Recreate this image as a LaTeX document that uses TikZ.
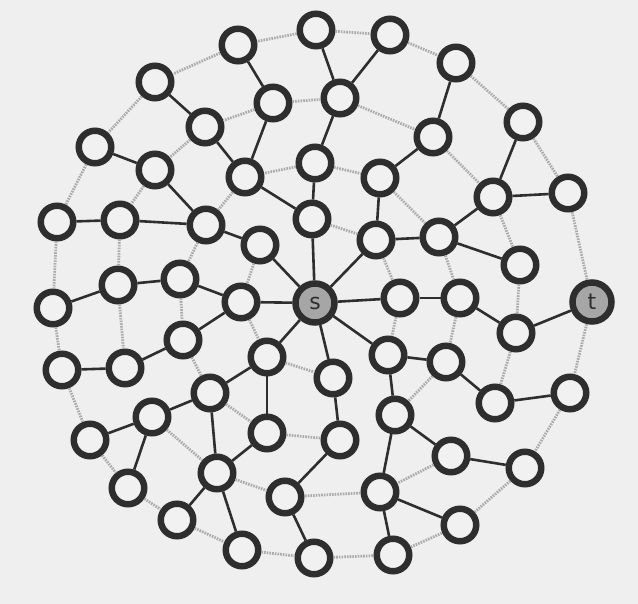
\documentclass[tikz,border=0pt]{standalone}
\usepackage{fontspec}
\newfontfamily\lab{DejaVu Sans}
\definecolor{bg}{HTML}{EFEFEF}
\definecolor{ink}{HTML}{2E2E2E}
\definecolor{nodefill}{HTML}{F1F1F1}
\definecolor{stfill}{HTML}{A6A6A6}
\definecolor{ringgray}{HTML}{ABABAB}
\begin{document}
\begin{tikzpicture}[x=1pt,y=-1pt,
  v/.style={circle, draw=ink, line width=6.5pt, fill=nodefill, minimum size=32.5pt, inner sep=0pt},
  st/.style={v, fill=stfill, minimum size=39pt, font=\lab\fontsize{22}{22}\selectfont, text=ink},
  tr/.style={draw=ink, line width=2.6pt},
  rg/.style={draw=ringgray, line width=2.8pt, dash pattern=on 1.6pt off 1.1pt}]
\fill[bg] (0,0) rectangle (638,604);
\useasboundingbox (0,0) rectangle (638,604);
% nodes
\node[v] (n1) at (316,30) {};
\node[v] (n2) at (238,45) {};
\node[v] (n3) at (390,35) {};
\node[v] (n4) at (155,82) {};
\node[v] (n5) at (456,63) {};
\node[v] (n6) at (273,103) {};
\node[v] (n7) at (340,98) {};
\node[v] (n8) at (205,127) {};
\node[v] (n9) at (523,122) {};
\node[v] (n10) at (95,147) {};
\node[v] (n11) at (433,137) {};
\node[v] (n12) at (155,170) {};
\node[v] (n13) at (315,163) {};
\node[v] (n14) at (245,177) {};
\node[v] (n15) at (380,178) {};
\node[v] (n16) at (493,197) {};
\node[v] (n17) at (568,193) {};
\node[v] (n18) at (57,222) {};
\node[v] (n19) at (120,220) {};
\node[v] (n20) at (206,225) {};
\node[v] (n21) at (312,219) {};
\node[v] (n22) at (260,245) {};
\node[v] (n23) at (376,240) {};
\node[v] (n24) at (439,237) {};
\node[v] (n25) at (520,265) {};
\node[v] (n26) at (53,308) {};
\node[v] (n27) at (118,285) {};
\node[v] (n28) at (180,279) {};
\node[v] (n29) at (241,302) {};
\node[st] (s) at (315,303) {s};
\node[v] (n31) at (400,298) {};
\node[v] (n32) at (460,298) {};
\node[st] (t) at (592,302) {t};
\node[v] (n33) at (516,333) {};
\node[v] (n35) at (62,370) {};
\node[v] (n36) at (125,368) {};
\node[v] (n37) at (183,340) {};
\node[v] (n38) at (267,357) {};
\node[v] (n39) at (388,355) {};
\node[v] (n39b) at (446,362) {};
\node[v] (n40) at (333,378) {};
\node[v] (n41) at (210,393) {};
\node[v] (n42) at (152,417) {};
\node[v] (n43) at (90,440) {};
\node[v] (n44) at (267,433) {};
\node[v] (n45) at (395,415) {};
\node[v] (n47) at (495,403) {};
\node[v] (n48) at (570,393) {};
\node[v] (n49) at (340,440) {};
\node[v] (n50) at (451,456) {};
\node[v] (n51) at (525,468) {};
\node[v] (n52) at (217,473) {};
\node[v] (n53) at (128,488) {};
\node[v] (n54) at (380,492) {};
\node[v] (n55) at (285,497) {};
\node[v] (n56) at (177,520) {};
\node[v] (n57) at (460,525) {};
\node[v] (n58) at (242,550) {};
\node[v] (n59) at (314,558) {};
\node[v] (n60) at (393,555) {};
% gray edges
\foreach \a/\b in {n1/n2, n1/n3, n2/n4, n3/n5, n5/n9, n4/n10, n6/n8, n6/n7, n7/n11, n8/n12, n9/n17,
  n10/n18, n11/n16, n12/n19, n13/n14, n13/n15, n14/n20, n15/n24, n16/n25, n17/t, n18/n26,
  n19/n27, n20/n28, n21/n23, n22/n29, n23/n31, n25/n33, n26/n35, n27/n36, n28/n37, n29/n38, n31/n39,
  n32/n39b, n33/n47, t/n48, n35/n43, n37/n41, n38/n40, n39b/n45, n43/n53, n44/n49, n41/n44,
  n48/n51, n51/n57, n52/n55, n53/n56, n54/n55, n56/n58, n58/n59, n59/n60, n60/n57, n24/n32,
  n50/n54, n42/n52}
  \draw[rg] (\a) -- (\b);
% black edges
\foreach \a/\b in {n1/n7, n2/n6, n3/n7, n5/n11, n4/n8, n6/n14, n7/n13, n8/n14, n9/n16, n10/n12,
  n11/n15, n12/n20, n13/n21, n14/n21, n15/n23, n16/n17, n16/n24, n18/n19, n19/n20, n20/n22,
  n21/s, n22/s, n23/s, n23/n24, n24/n25, n26/n27, n27/n28, n28/n29, n29/s, n29/n37, s/n31,
  s/n38, s/n40, s/n39, n31/n32, n32/n33, n33/t, n35/n36, n36/n37, n38/n41, n38/n44, n39/n39b,
  n39/n45, n39b/n47, n40/n49, n41/n42, n41/n52, n42/n43, n42/n53, n44/n52, n45/n50, n45/n54,
  n47/n48, n50/n51, n49/n55, n52/n56, n52/n58, n54/n57, n54/n60, n55/n59}
  \draw[tr] (\a) -- (\b);
\end{tikzpicture}
\end{document}
